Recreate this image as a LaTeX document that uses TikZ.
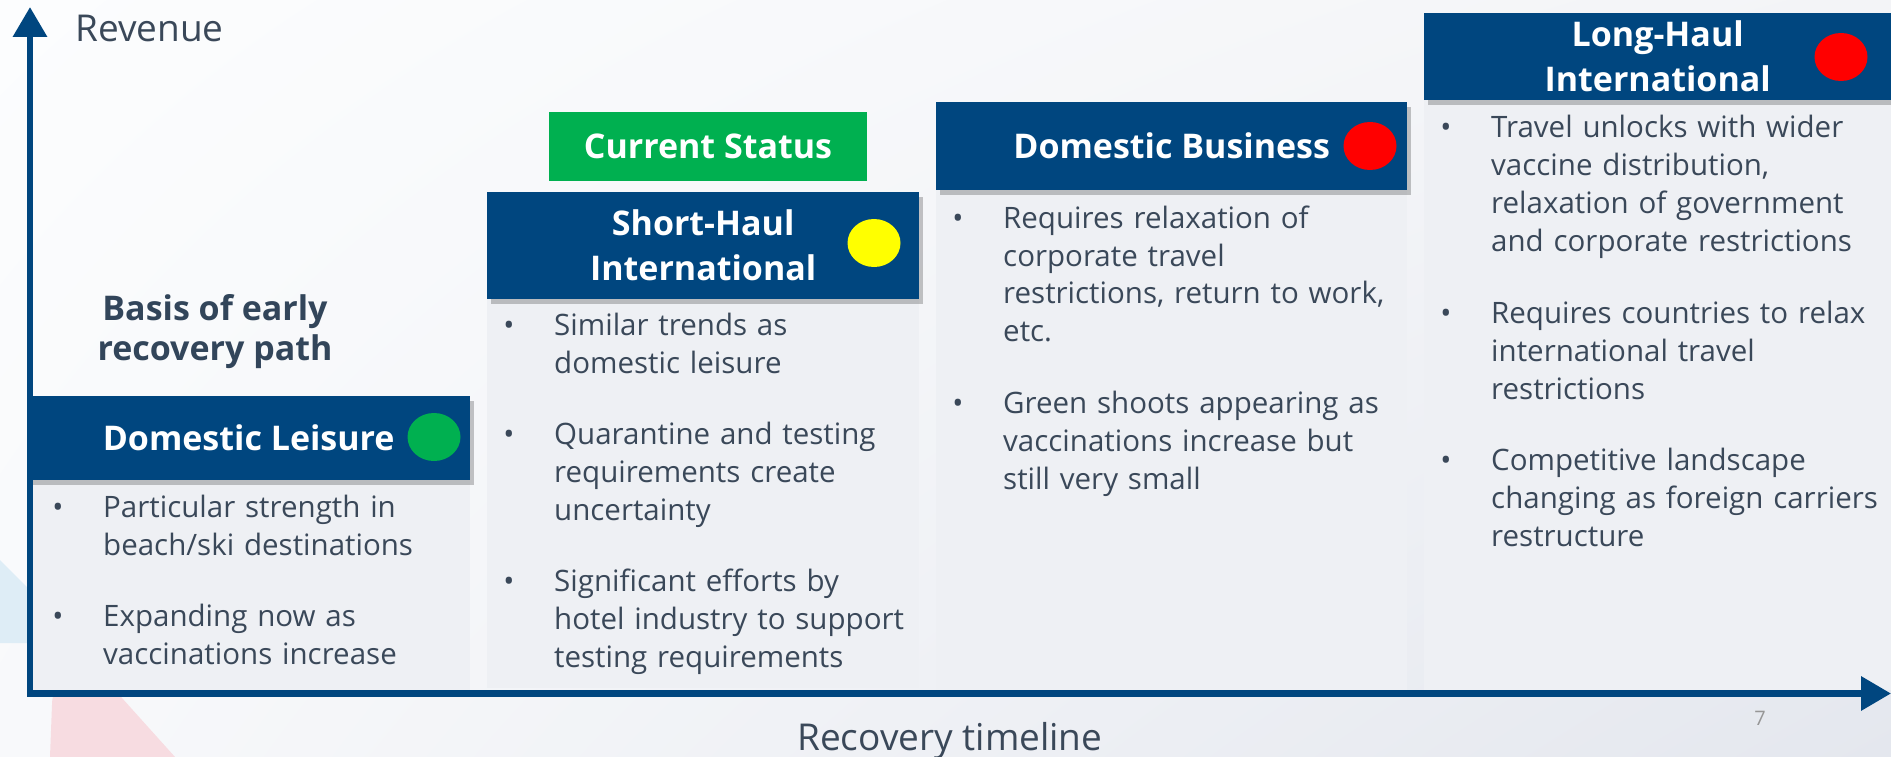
\documentclass[tikz,border=0pt]{standalone}
\usepackage{fontspec}
\setmainfont{Open Sans}
\usepackage{tikz}
\usetikzlibrary{
  arrows.meta,
  positioning,
  shapes.geometric,
  shadings,
  shadows
}
\definecolor{AxisBlue}{RGB}{0,70,127}
\definecolor{HeadBlue}{RGB}{0,70,127}
\definecolor{PanelGray}{RGB}{238,240,244}
\definecolor{InkSlate}{RGB}{58,72,89}
\definecolor{TitleSlate}{RGB}{50,69,90}
\definecolor{StatusGreen}{RGB}{0,176,80}
\definecolor{LampGreen}{RGB}{0,176,80}
\definecolor{LampYellow}{RGB}{255,255,0}
\definecolor{LampRed}{RGB}{255,0,0}
\definecolor{PageGray}{RGB}{150,150,150}
\definecolor{BgTopLeft}{RGB}{252,253,254}
\definecolor{BgTopRight}{RGB}{243,244,247}
\definecolor{BgLowLeft}{RGB}{248,249,251}
\definecolor{BgLowRight}{RGB}{228,231,238}
\definecolor{MarkBlue}{RGB}{222,237,246}
\definecolor{MarkRed}{RGB}{247,220,225}
\newcommand\bulletfont{\fontsize{29.5}{38}\selectfont}
\newcommand\panelheadfont{\fontsize{34}{45}\selectfont\bfseries}
\newcommand\axisfont{\fontsize{37}{44}\selectfont}
\tikzset{
  panelbody/.style={fill=PanelGray,inner sep=0pt,anchor=north west},
  panelhead/.style={fill=HeadBlue,text=white,font=\panelheadfont,align=center,inner sep=0pt,
    drop shadow={shadow xshift=4pt,shadow yshift=-5pt,opacity=0.22,fill=black}},
  statusbox/.style={fill=StatusGreen,text=white,font=\panelheadfont,inner sep=0pt,minimum width=318pt,minimum height=69pt},
  lamp/.style={ellipse,minimum width=53pt,minimum height=48pt,inner sep=0pt},
  point/.style={text width=430pt,align=left,inner sep=0pt,text=InkSlate,font=\bulletfont,
    execute at begin node=\strut,execute at end node=\strut},
  dot/.style={anchor=base,inner sep=0pt,text=InkSlate,font=\bulletfont},
  axisline/.style={{Triangle[length=30pt,width=33pt]}-{Triangle[length=30pt,width=33pt]},line width=6.5pt,draw=AxisBlue,line join=miter},
  axislabel/.style={anchor=base west,inner sep=0pt,text=InkSlate,font=\axisfont}
}

\begin{document}
\begin{tikzpicture}[x=1pt,y=-1pt,node distance=33pt]
\useasboundingbox (0,0) rectangle (1891,757);
\shade[upper left=BgTopLeft,upper right=BgTopRight,lower left=BgLowLeft,lower right=BgLowRight]
  (0,0) rectangle (1891,757);

% faint logo marks in the corner
\fill[MarkBlue] (0,560) -- (83,643) -- (0,643) -- cycle;
\fill[MarkRed] (62,688) -- (113,688) -- (175,757) -- (50,757) -- (52,705) to[out=90,in=180] cycle;

% panels
\node[panelbody,minimum width=443pt,minimum height=212pt] (dlb) at (27,480) {};
\node[panelbody,minimum width=432pt,minimum height=389pt] (shb) at (487,299) {};
\node[panelbody,minimum width=471pt,minimum height=500pt] (dbb) at (936,190) {};
\node[panelbody,minimum width=467pt,minimum height=590pt] (lhb) at (1424,100) {};

\node[panelhead,minimum width=443pt,minimum height=84pt,above=0pt of dlb.north] (dlh) {Domestic Leisure};
\node[panelhead,minimum width=432pt,minimum height=107pt,above=0pt of shb.north] (shh) {Short-Haul\\International};
\node[panelhead,minimum width=471pt,minimum height=88pt,above=0pt of dbb.north] (dbh) {Domestic Business};
\node[panelhead,minimum width=467pt,minimum height=87pt,above=0pt of lhb.north] (lhh) {Long-Haul\\International};

\node[statusbox] (status) at (708,146.5) {Current Status};

\node[lamp,fill=LampGreen] (dllamp) at (434,437) {};
\node[lamp,fill=LampYellow] (shlamp) at (874,243) {};
\node[lamp,fill=LampRed] (dblamp) at (1370,146) {};
\node[lamp,fill=LampRed] (lhlamp) at (1841,57) {};

\node[font=\panelheadfont,text=TitleSlate,align=center,inner sep=0pt,anchor=base] (basis) at (215,360)
  {Basis of early\\[-5pt]recovery path};

% bullet points
\node[point,anchor=base west] (dl1) at (103,517) {Particular strength in\\beach/ski destinations};
\node[point,below=of dl1.south west,anchor=north west] (dl2) {Expanding now as\\vaccinations increase};

\node[point,anchor=base west] (sh1) at (554,335) {Similar trends as\\domestic leisure};
\node[point,below=of sh1.south west,anchor=north west] (sh2) {Quarantine and testing\\requirements create\\uncertainty};
\node[point,below=of sh2.south west,anchor=north west] (sh3) {Significant efforts by\\hotel industry to support\\testing requirements};

\node[point,anchor=base west] (db1) at (1003,228) {Requires relaxation of\\corporate travel\\restrictions, return to work,\\etc.};
\node[point,below=of db1.south west,anchor=north west] (db2) {Green shoots appearing as\\vaccinations increase but\\still very small};

\node[point,anchor=base west] (lh1) at (1491,138) {Travel unlocks with wider\\vaccine distribution,\\relaxation of government\\and corporate restrictions};
\node[point,below=of lh1.south west,anchor=north west] (lh2) {Requires countries to relax\\international travel\\restrictions};
\node[point,below=of lh2.south west,anchor=north west] (lh3) {Competitive landscape\\changing as foreign carriers\\restructure};

\foreach \p in {dl1,dl2,sh1,sh2,sh3,db1,db2,lh1,lh2,lh3}{
  \node[dot] at ([xshift=-45pt]\p.base west) {\textbullet};
}

% axes
\coordinate (ytip) at (30,7);
\coordinate (xtip) at (1891,693.5);
\draw[axisline] (ytip) |- (xtip);
\node[axislabel] (revenue) at (75,42) {Revenue};
\node[axislabel] (timeline) at (797,750) {Recovery timeline};
\node[anchor=base,inner sep=0pt,text=PageGray,font=\fontsize{20}{24}\selectfont] (page) at (1760,725) {7};
\end{tikzpicture}
\end{document}
